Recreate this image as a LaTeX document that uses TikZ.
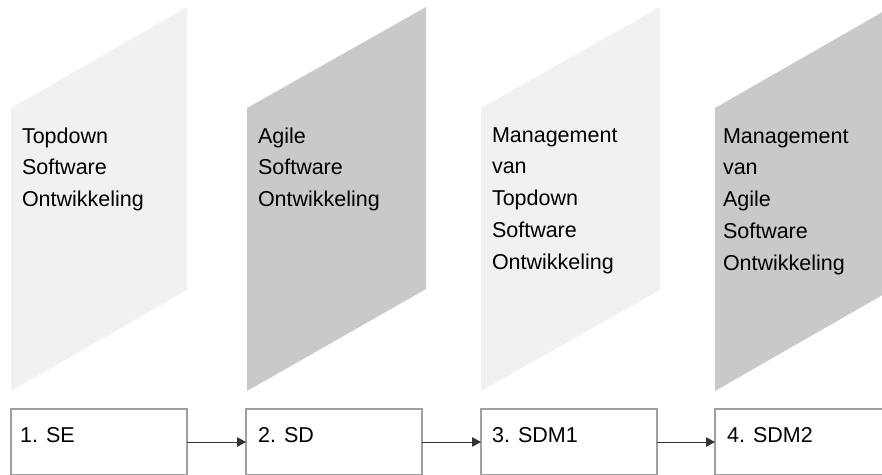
\documentclass[tikz,border=0pt]{standalone}
\usepackage{fontspec}
\setmainfont{Liberation Sans}
\usetikzlibrary{arrows.meta,calc}
\definecolor{lightpar}{HTML}{F0F1F0}
\definecolor{darkpar}{HTML}{C9C9C9}
\definecolor{boxline}{HTML}{A0A0A0}
\definecolor{arrline}{HTML}{333333}
\begin{document}
\begin{tikzpicture}[x=1pt,y=-1pt,
  phase/.style={inner sep=0pt, outer sep=0pt, anchor=base west, align=left,
    font=\fontsize{21.5}{31.8}\selectfont},
  stagebox/.style={draw=boxline, line width=1.5pt, fill=white, rectangle,
    minimum width=176pt, minimum height=66pt, anchor=north west, inner sep=0pt, outer sep=0pt},
  stagelabel/.style={inner sep=0pt, anchor=base west, font=\fontsize{21.5}{26}\selectfont},
  flow/.style={draw=arrline, line width=0.9pt, -{Triangle[length=9pt,width=9.5pt]}}]
\useasboundingbox (0,0) rectangle (882,474);
\clip (0,0) rectangle (882,474);
% parallelograms
\fill[lightpar] (11,108) -- (187,7) -- (187,290) -- (11,391) -- cycle;
\fill[darkpar] (247,108) -- (426,7) -- (426,289) -- (247,391) -- cycle;
\fill[lightpar] (481,108) -- (660,7) -- (660,290) -- (481,391) -- cycle;
\fill[darkpar] (715,108) -- (893,6) -- (893,289) -- (715,391) -- cycle;
% anchor base west = baseline of the last line
\node[phase] (p1) at (22,206.6) {Topdown\\Software\\Ontwikkeling};
\node[phase] (p2) at (258,206.6) {Agile\\Software\\Ontwikkeling};
\node[phase] (p3) at (492,269.2) {Management\\van\\Topdown\\Software\\Ontwikkeling};
\node[phase] (p4) at (723,270.2) {Management\\van\\Agile\\Software\\Ontwikkeling};
% boxes
\node[stagebox] (b1) at (11,409) {};
\node[stagebox] (b2) at (246,409) {};
\node[stagebox] (b3) at (481,409) {};
\node[stagebox] (b4) at (715,409) {};
\node[stagelabel] (l1) at (20,442) {1. SE};
\node[stagelabel] (l2) at (258,442) {2. SD};
\node[stagelabel] (l3) at (492,442) {3. SDM1};
\node[stagelabel] (l4) at (727,442) {4. SDM2};
\draw[flow] (b1.east) -- (b2.west);
\draw[flow] (b2.east) -- (b3.west);
\draw[flow] (b3.east) -- (b4.west);
\end{tikzpicture}
\end{document}
